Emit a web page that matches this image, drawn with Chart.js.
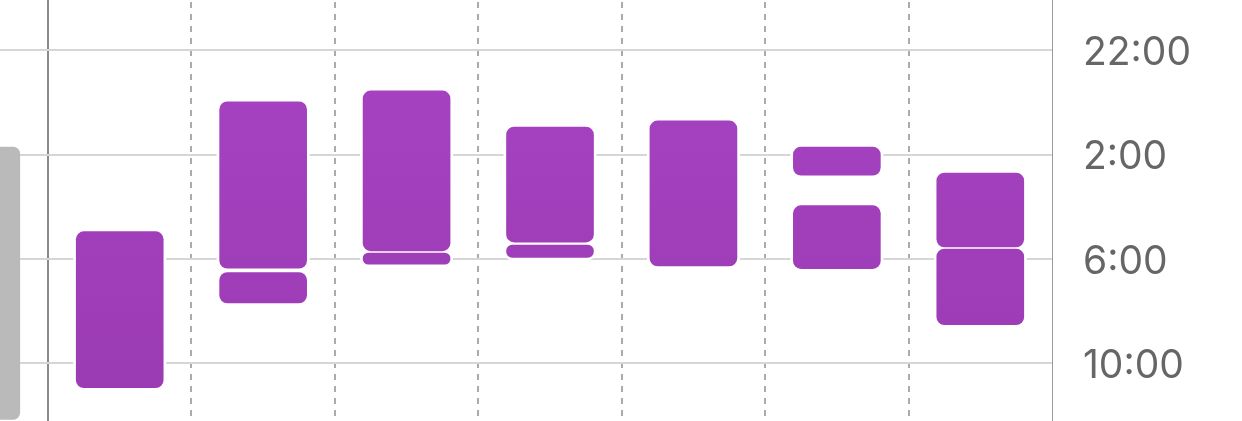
<!DOCTYPE html>
<html><head><meta charset="utf-8">
<script src="https://cdn.jsdelivr.net/npm/chart.js@4/dist/chart.umd.min.js"></script>
<style>html,body{margin:0;padding:0;background:#fff;overflow:hidden}canvas{display:block}</style>
</head><body>
<canvas id="c" width="1242" height="421"></canvas>
<script>
// ---- data ----
const tickClocks = ['22:00', '2:00', '6:00', '10:00'];
const prevDayStart = ['1:42'];
const prevDayEnd = ['12:09'];
const segmentDay = [0, 1, 1, 2, 2, 3, 3, 4, 5, 5, 6, 6];
const segmentStart = ['4:57', '23:58', '6:31', '23:33', '5:46', '0:56', '5:28', '0:42', '1:42', '3:57', '2:42', '5:37'];
const segmentEnd = ['10:56', '6:21', '7:41', '5:41', '6:12', '5:21', '5:56', '6:16', '2:47', '6:22', '5:32', '8:31'];

// hours after 22:00
function toH(clock) {
  const [h, m] = clock.split(':').map(Number);
  return (((h * 60 + m) - 22 * 60 + 1440) % 1440) / 60;
}

const haloPlugin = {
  id: 'halo',
  beforeDatasetsDraw(chart) {
    const meta = chart.getDatasetMeta(1);
    const ctx = chart.ctx;
    ctx.save();
    ctx.fillStyle = '#ffffff';
    meta.data.forEach(el => {
      const p = el.getProps(['x', 'y', 'base', 'width'], true);
      const l = p.x - p.width / 2 - 3, r = p.x + p.width / 2 + 3;
      const t = Math.min(p.y, p.base) - 3, b = Math.max(p.y, p.base) + 3;
      ctx.beginPath();
      ctx.roundRect(l, t, r - l, b - t, 10);
      ctx.fill();
    });
    ctx.restore();
  }
};

const purple = (c) => {
  const a = c.chart.chartArea;
  if (!a) return '#a040bb';
  const g = c.chart.ctx.createLinearGradient(0, a.top, 0, a.bottom);
  g.addColorStop(0, '#a843c4');
  g.addColorStop(1, '#9a3bb2');
  return g;
};

const noPad = s => { s.paddingTop = 0; s.paddingBottom = 0; s.paddingLeft = 0; s.paddingRight = 0; };

new Chart(document.getElementById('c'), {
  type: 'bar',
  data: {
    datasets: [
      {
        label: 'previous',
        data: prevDayStart.map((s, i) => ({ x: -0.5, y: [toH(s), toH(prevDayEnd[i])] })),
        backgroundColor: '#bababa',
        borderRadius: 7, borderSkipped: false, barThickness: 87, grouped: false
      },
      {
        label: 'sleep',
        data: segmentDay.map((d, i) => ({ x: d + 0.5, y: [toH(segmentStart[i]), toH(segmentEnd[i])] })),
        backgroundColor: purple,
        borderRadius: 8, borderSkipped: false, barThickness: 87, grouped: false
      }
    ]
  },
  options: {
    responsive: false, animation: false, devicePixelRatio: 1,
    layout: { padding: 0 },
    plugins: { legend: { display: false }, tooltip: { enabled: false } },
    scales: {
      x: {
        type: 'linear', min: -0.3347, max: 7, position: 'bottom', offset: false,
        ticks: { display: false },
        grid: { color: '#ababab', lineWidth: 2, drawTicks: false, offset: false },
        border: { display: false, dash: [6, 6], dashOffset: -2 },
        afterBuildTicks: s => { s.ticks = [1, 2, 3, 4, 5, 6].map(v => ({ value: v })); },
        afterFit: s => { s.height = 0; noPad(s); }
      },
      x2: {
        type: 'linear', min: -0.3347, max: 7, position: 'bottom', offset: false,
        ticks: { display: false },
        grid: { color: '#8a8a8a', lineWidth: 2, drawTicks: false, offset: false },
        border: { display: false },
        afterBuildTicks: s => { s.ticks = [{ value: 0 }]; },
        afterFit: s => { s.height = 0; noPad(s); }
      },
      y: {
        type: 'linear', position: 'right', reverse: true, min: -1.936, max: 14.21,
        grid: { color: '#d6d6d6', lineWidth: 2, drawTicks: false },
        border: { display: true, color: '#9a9a9a', width: 1 },
        ticks: {
          color: '#666666', padding: 31, crossAlign: 'near', labelOffset: 3,
          font: { family: 'Inter', size: 39 },
          callback: (v, i) => tickClocks[i]
        },
        afterBuildTicks: s => { s.ticks = tickClocks.map(t => ({ value: toH(t) })); },
        afterFit: s => { s.width = 190; noPad(s); }
      }
    }
  },
  plugins: [haloPlugin]
});
</script>
</body></html>
